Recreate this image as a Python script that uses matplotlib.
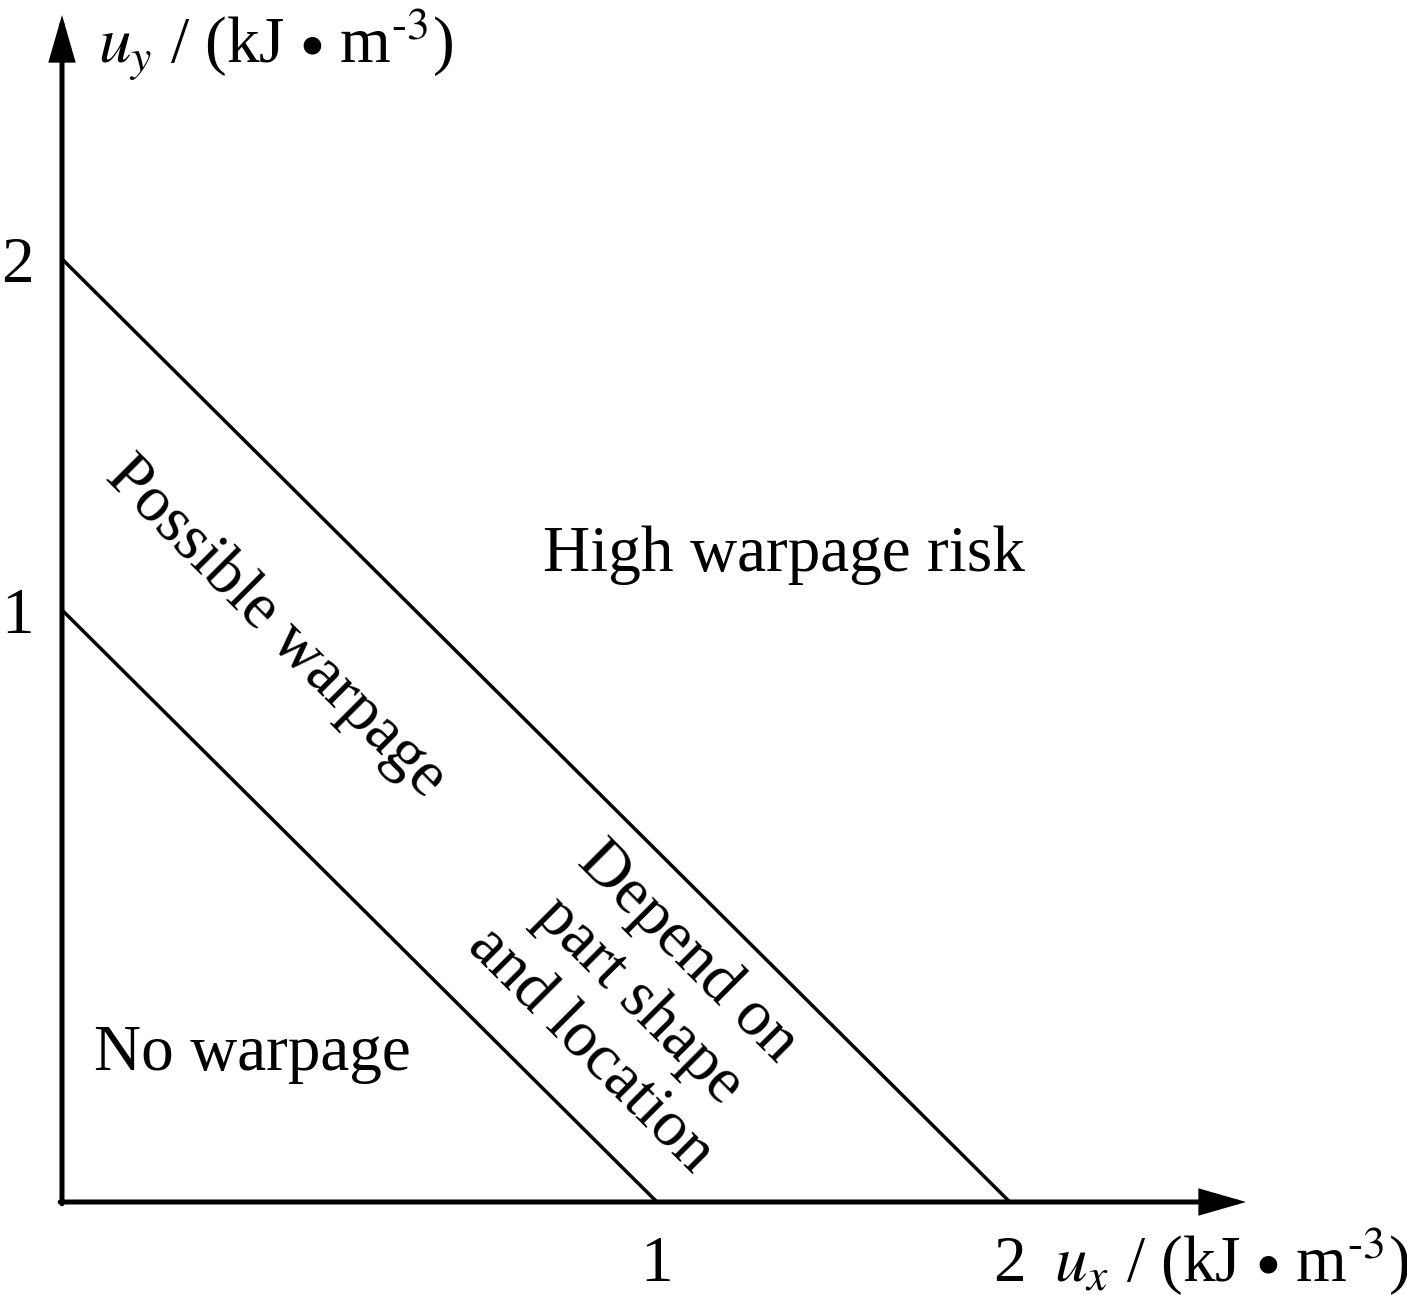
import matplotlib
matplotlib.use("Agg")
import matplotlib.pyplot as plt
import numpy as np

plt.rcParams['font.family'] = ['Liberation Serif', 'DejaVu Serif']
plt.rcParams['mathtext.fontset'] = 'stix'

# boundary lines: intercepts on both axes (kJ/m^3)
boundary_intercepts = [1, 2]
tick_values = [1, 2]
tick_labels = ["1", "2"]

# region labels (x, y, text, rotation)
region_x = [1.36, 0.32, 0.36, 0.97]
region_y = [1.155, 0.25, 0.97, 0.34]
region_text = ["High warpage risk", "No warpage", "Possible warpage",
               "Depend on\npart shape\nand location"]
region_rot = [0, 0, -45, -45]

ylabel = "$u_y$ / (kJ $\\bullet$ m$^{\u20103}$)"
xlabel = "$u_x$ / (kJ $\\bullet$ m$^{\u20103}$)"

# the schematic axis is compressed beyond 1
K = 0.593


def fwd(v):
    v = np.asarray(v, dtype=float)
    return np.where(v <= 1, v, 1 + (v - 1) * K)


def inv(v):
    v = np.asarray(v, dtype=float)
    return np.where(v <= 1, v, 1 + (v - 1) / K)


W, H = 1407, 1295
fig = plt.figure(figsize=(W / 100, H / 100), dpi=100)
ox, oy = 62, 1202
ax = fig.add_axes([ox / W, (H - oy) / H, (1246 - ox) / W, (oy - 15) / H])
ax.set_xscale('function', functions=(fwd, inv))
ax.set_yscale('function', functions=(fwd, inv))
ax.set_xlim(0, float(inv((1246 - ox) / 595)))
ax.set_ylim(0, float(inv((oy - 15) / 592)))

for c in boundary_intercepts:
    ax.plot([0, c], [c, 0], color='black', lw=2.5, solid_capstyle='butt',
            clip_on=False)

for s in ax.spines.values():
    s.set_visible(False)

arrow = dict(arrowstyle='-|>,head_length=2.6,head_width=0.75', lw=3.6,
             color='black', shrinkA=0, shrinkB=0, joinstyle='miter')
ax.annotate('', xy=(1, 0), xytext=(-0.0015, 0), xycoords='axes fraction',
            arrowprops=arrow)
ax.annotate('', xy=(0, 1), xytext=(0, -0.0015), xycoords='axes fraction',
            arrowprops=arrow)

ax.set_xticks(tick_values, tick_labels)
ax.set_yticks(tick_values, tick_labels)
ax.xaxis.set_minor_locator(matplotlib.ticker.NullLocator())
ax.yaxis.set_minor_locator(matplotlib.ticker.NullLocator())
ax.tick_params(axis='both', length=0, labelsize=47)
ax.tick_params(axis='x', pad=24)
ax.tick_params(axis='y', pad=20)

ax.text(0.03, 0.975, ylabel, transform=ax.transAxes,
        fontsize=47, ha='left', va='center')
ax.text(0.838, -0.05, xlabel, transform=ax.transAxes,
        fontsize=47, ha='left', va='center')

for x, y, t, r in zip(region_x, region_y, region_text, region_rot):
    ax.text(x, y, t, fontsize=47, ha='center', va='center', rotation=r,
            rotation_mode='anchor', multialignment='center', linespacing=1.2)

fig.savefig("out.png", dpi=100)
